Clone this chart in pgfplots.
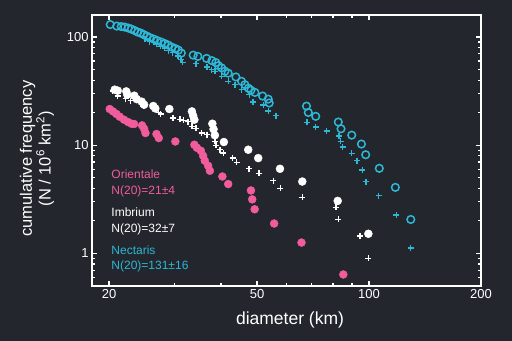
\documentclass[border=0pt]{standalone}
\usepackage{pgfplots}
\pgfplotsset{compat=1.18}
\usepackage{fontspec}
\setmainfont{Liberation Sans}
\definecolor{bgc}{RGB}{35,38,45}
\definecolor{pinkc}{RGB}{240,92,156}
\definecolor{cyanc}{RGB}{44,184,214}
\begin{document}
\begin{tikzpicture}
\fill[bgc] (-92bp,-55bp) rectangle (420bp,286bp);
\begin{axis}[
 at={(0,0)}, anchor=south west, scale only axis, width=389bp, height=271bp,
 xmode=log, ymode=log, xmin=18, xmax=200, ymin=0.5, ymax=160,
 axis line style={white, line width=1.9bp},
 xtick={20,50,100,200}, xticklabels={20,50,100,200},
 minor xtick={30,40,60,70,80,90},
 ytick={1,10,100}, yticklabels={1,10,100},
 minor ytick={0.6,0.7,0.8,0.9,2,3,4,5,6,7,8,9,20,30,40,50,60,70,80,90},
 tick align=inside, major tick length=5bp, minor tick length=3bp,
 tick style={white, line width=1.2bp},
 tick label style={text=white, font=\fontsize{13bp}{15bp}\selectfont},
 xlabel={diameter (km)},
 xlabel style={at={(axis description cs:0.509,-0.1255)}, anchor=center, text=white, font=\fontsize{17.5bp}{19bp}\selectfont},
 ylabel={cumulative frequency\\(N / 10\textsuperscript{6} km\textsuperscript{2})},
 ylabel style={at={(axis description cs:-0.1414,0.47)}, anchor=center, align=center, text=white, font=\fontsize{16.5bp}{17bp}\selectfont},
]
% Orientale
\addplot[only marks, mark=*, mark size=4bp, color=pinkc, fill=pinkc] coordinates {
(20.09,21.63) (20.50,20.56) (20.94,19.45) (21.37,18.36) (21.95,17.22) (22.50,16.40)
(22.98,15.82) (23.35,15.72) (24.54,15.26) (24.85,14.21) (25.06,12.97) (26.83,12.70)
(27.21,11.66) (30.15,10.84) (33.92,10.11) (34.45,9.48) (35.31,8.89) (35.81,7.99)
(36.19,7.19) (36.94,6.46) (37.34,5.81) (40.34,5.14) (41.82,4.38) (48.14,3.82)
(48.53,3.16) (49.26,2.56) (55.58,1.89) (65.84,1.26) (85.29,0.639)
};
% Imbrium plus
\addplot[only marks, mark=+, mark size=3bp, line width=1.4bp, color=white] coordinates {
(20.46,31.62) (21.11,28.43) (22.18,26.95) (22.88,25.82) (24.72,22.97) (27.21,20.21)
(27.55,19.37) (29.74,17.86) (31.0,17.41) (31.77,17.04) (32.57,16.51) (33.40,14.99)
(34.23,14.37) (35.46,12.97) (36.71,12.51) (38.51,10.84) (38.82,10.0) (39.73,9.09)
(40.55,8.47) (42.97,7.61) (44.04,6.93) (47.54,6.06) (50.59,5.50) (55.27,4.71)
(57.78,4.00) (66.16,3.30) (81.50,2.66) (82.68,2.07) (94.60,1.45) (99.58,0.903)
};
% Imbrium circles
\addplot[only marks, mark=*, mark size=4bp, color=white, fill=white] coordinates {
(20.72,32.65) (21.11,31.96) (22.25,31.49) (22.39,29.35) (23.38,28.73) (23.75,26.67)
(24.49,25.28) (24.85,23.71) (26.30,23.07) (26.63,21.91) (29.05,21.63) (33.40,20.56)
(33.67,18.76) (33.92,17.22) (37.92,15.82) (38.20,14.07) (38.51,12.38) (40.72,10.71)
(47.34,9.09) (50.36,7.61) (57.62,6.06) (66.16,4.62) (82.37,3.06) (99.58,1.52)
};
% Nectaris plus
\addplot[only marks, mark=+, mark size=3bp, line width=1.4bp, color=cyanc] coordinates {
(24.96,96.8) (25.74,90.9) (26.83,86.1) (27.50,82.2) (28.24,79.4) (28.86,75.0)
(29.68,71.9) (30.62,66.7) (31.19,61.9) (31.52,58.4) (34.23,56.8) (36.71,52.8)
(37.73,50.0) (38.51,48.2) (40.15,43.4) (41.82,39.0) (43.59,36.3) (45.44,32.6)
(47.63,29.4) (48.73,25.2) (51.94,23.5) (53.58,20.7) (56.20,18.8) (68.12,16.3)
(71.89,14.8) (76.95,13.6) (82.93,12.2) (83.92,10.84) (84.96,9.62) (89.85,8.40)
(92.89,7.19) (95.98,5.89) (98.02,4.62) (106.22,3.42) (118.41,2.26) (129.49,1.12)
};
% Nectaris circles
\addplot[only marks, mark=o, mark size=3.8bp, line width=1.5bp, color=cyanc] coordinates {
(20.15,130.6) (20.98,126.4) (21.57,125.1) (22.04,123.8) (22.53,121.2) (22.95,118.6)
(23.45,114.9) (23.89,111.2) (24.34,108.9) (24.80,105.5) (25.26,102.2) (25.74,98.9)
(26.38,95.8) (26.96,92.8) (27.64,89.9) (28.24,87.1) (28.86,84.3) (29.50,80.8)
(30.15,78.3) (30.72,75.8) (31.29,71.1) (33.67,68.1) (34.66,66.3) (36.58,63.5)
(37.80,60.6) (38.75,58.1) (39.36,54.5) (40.15,51.9) (40.98,48.4) (41.82,46.4)
(43.86,42.8) (45.44,39.0) (46.38,36.3) (47.39,33.7) (48.14,32.3) (49.34,30.8)
(51.75,28.5) (53.58,26.7) (53.91,24.6) (67.90,23.0) (68.67,20.1) (71.89,18.5)
(82.68,16.4) (84.07,14.2) (89.85,12.4) (95.39,10.26) (97.96,8.17) (106.55,6.12)
(117.68,4.08) (129.49,2.06)
};
\node[anchor=west, text=pinkc, font=\fontsize{12bp}{14bp}\selectfont] at (axis description cs:0.041,0.412) {Orientale};
\node[anchor=west, text=pinkc, font=\fontsize{12bp}{14bp}\selectfont] at (axis description cs:0.041,0.3506) {N(20)=21±4};
\node[anchor=west, text=white, font=\fontsize{12bp}{14bp}\selectfont] at (axis description cs:0.041,0.274) {Imbrium};
\node[anchor=west, text=white, font=\fontsize{12bp}{14bp}\selectfont] at (axis description cs:0.041,0.2103) {N(20)=32±7};
\node[anchor=west, text=cyanc, font=\fontsize{12bp}{14bp}\selectfont] at (axis description cs:0.041,0.1328) {Nectaris};
\node[anchor=west, text=cyanc, font=\fontsize{12bp}{14bp}\selectfont] at (axis description cs:0.041,0.0712) {N(20)=131±16};
\end{axis}
\pgfresetboundingbox
\useasboundingbox (-92bp,-55bp) rectangle (420bp,286bp);
\end{tikzpicture}
\end{document}
